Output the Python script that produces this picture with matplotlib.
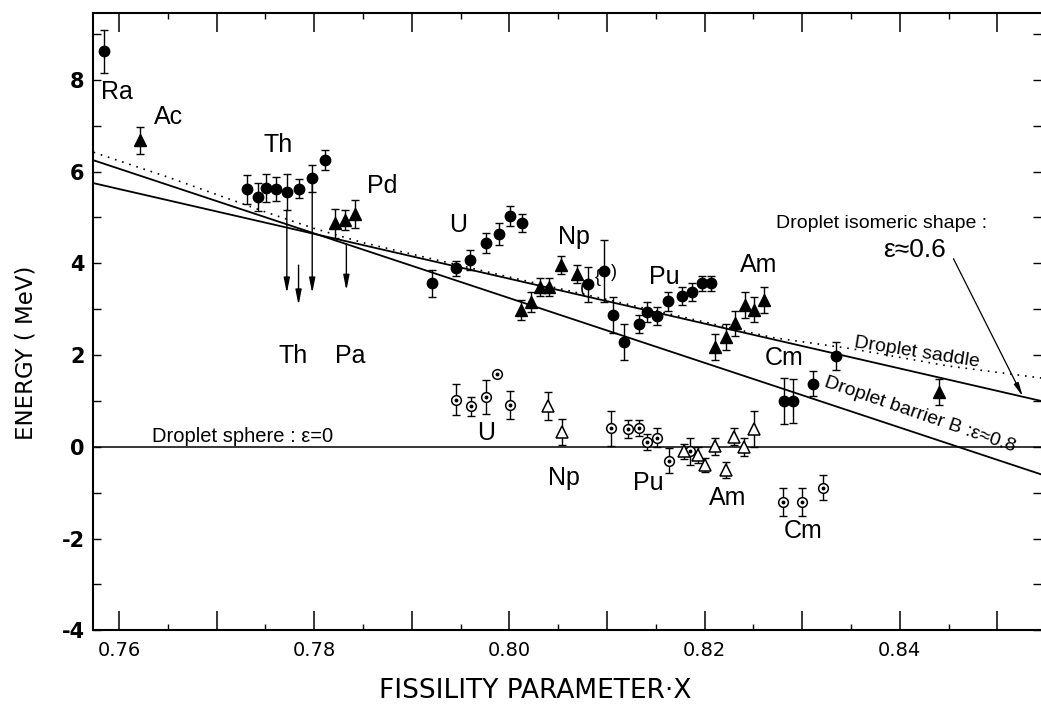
import matplotlib
matplotlib.use("Agg")
import matplotlib.pyplot as plt
from matplotlib import font_manager
from matplotlib.ticker import MultipleLocator, FuncFormatter

# ---------------- data ----------------
# filled circles (x, energy, error)
circ_x = [0.7585, 0.7731, 0.7742, 0.7751, 0.7761, 0.7772, 0.7784, 0.7798, 0.7811,
          0.7921, 0.7945, 0.7960, 0.7976, 0.7989, 0.8001, 0.8013,
          0.8081, 0.8097, 0.8106, 0.8117, 0.8133, 0.8141, 0.8151, 0.8163, 0.8177,
          0.8187, 0.8197, 0.8207, 0.8281, 0.8291, 0.8311, 0.8335]
circ_y = [8.62, 5.61, 5.45, 5.64, 5.62, 5.55, 5.63, 5.85, 6.25,
          3.56, 3.89, 4.07, 4.44, 4.63, 5.03, 4.88,
          3.54, 3.83, 2.88, 2.29, 2.67, 2.94, 2.85, 3.17, 3.29,
          3.38, 3.56, 3.56, 1.00, 1.00, 1.38, 1.98]
circ_e = [0.47, 0.31, 0.31, 0.30, 0.26, 0.39, 0.20, 0.30, 0.22,
          0.30, 0.17, 0.22, 0.22, 0.24, 0.22, 0.20,
          0.39, 0.67, 0.39, 0.39, 0.20, 0.22, 0.20, 0.20, 0.20,
          0.20, 0.17, 0.17, 0.50, 0.48, 0.28, 0.30]

# filled triangles
tri_x = [0.7622, 0.7821, 0.7832, 0.7842, 0.8012, 0.8022, 0.8031, 0.8041, 0.8053,
         0.8069, 0.8211, 0.8222, 0.8231, 0.8241, 0.8251, 0.8261, 0.8440]
tri_y = [6.68, 4.87, 4.95, 5.08, 2.98, 3.16, 3.49, 3.49, 3.96,
         3.76, 2.18, 2.40, 2.69, 3.09, 2.99, 3.20, 1.20]
tri_e = [0.30, 0.31, 0.22, 0.30, 0.22, 0.22, 0.20, 0.20, 0.20,
         0.20, 0.28, 0.28, 0.28, 0.28, 0.28, 0.28, 0.28]

# open (dotted) circles
ocirc_x = [0.7945, 0.7961, 0.7976, 0.7987, 0.8001, 0.8104, 0.8122, 0.8133, 0.8141,
           0.8151, 0.8164, 0.8185, 0.8280, 0.8300, 0.8321]
ocirc_y = [1.03, 0.88, 1.08, 1.58, 0.91, 0.40, 0.39, 0.41, 0.10,
           0.20, -0.30, -0.10, -1.20, -1.20, -0.89]
ocirc_e = [0.33, 0.21, 0.37, 0.0, 0.30, 0.39, 0.20, 0.18, 0.17,
           0.20, 0.28, 0.30, 0.30, 0.31, 0.28]

# open triangles
otri_x = [0.8040, 0.8054, 0.8179, 0.8193, 0.8200, 0.8211, 0.8222, 0.8230, 0.8240, 0.8251]
otri_y = [0.89, 0.33, -0.10, -0.18, -0.40, 0.01, -0.51, 0.22, 0.00, 0.38]
otri_e = [0.30, 0.28, 0.17, 0.17, 0.15, 0.19, 0.18, 0.19, 0.20, 0.39]

# upper-limit arrows (x, from, to)
arrow_x = [0.7772, 0.7784, 0.7798, 0.7833]
arrow_top = [5.16, 3.96, 5.85, 4.43]
arrow_bot = [3.35, 3.09, 3.35, 3.41]

# droplet-model curves
XMIN, XMAX = 0.75734, 0.85447
barrier_x = [XMIN, XMAX]
barrier_y = [6.25, -0.60]
isomer_x = [XMIN, XMAX]
isomer_y = [5.75, 1.00]
saddle_x = [0.7574, 0.765, 0.770, 0.775, 0.780, 0.785, 0.790, 0.800, 0.810,
            0.820, 0.827, 0.835, 0.845, 0.8545]
saddle_y = [6.42, 5.88, 5.50, 5.12, 4.76, 4.45, 4.20, 3.70, 3.21,
            2.72, 2.38, 2.14, 1.76, 1.50]

# element labels
upper_labels = [("Ra", 0.7598, 7.73), ("Ac", 0.7651, 7.20), ("Th", 0.7763, 6.58),
                ("Pd", 0.7870, 5.68), ("U", 0.7948, 4.83), ("Np", 0.8066, 4.57),
                ("Pu", 0.8159, 3.70), ("Am", 0.8255, 3.96), ("Cm", 0.8281, 1.93)]
lower_labels = [("Th", 0.7778, 1.98), ("Pa", 0.7837, 1.98), ("U", 0.7976, 0.30),
                ("Np", 0.8056, -0.67), ("Pu", 0.8142, -0.78), ("Am", 0.8224, -1.11),
                ("Cm", 0.8301, -1.84)]

# ---------------- fonts ----------------
installed = {f.name for f in font_manager.fontManager.ttflist}
SANS = "Liberation Sans" if "Liberation Sans" in installed else "DejaVu Sans"

# ---------------- figure ----------------
fig = plt.figure(figsize=(10.41, 7.07), dpi=100)
ax = fig.add_axes([93 / 1041, 76.7 / 707, 948 / 1041, 617 / 707])
ax.set_xlim(XMIN, XMAX)
ax.set_ylim(-4, 9.45)

# reference lines
ax.axhline(0, color="black", lw=1.1, zorder=1)
ax.plot(barrier_x, barrier_y, color="black", lw=1.3, zorder=1)
ax.plot(isomer_x, isomer_y, color="black", lw=1.3, zorder=1)
ax.plot(saddle_x, saddle_y, color="black", lw=1.2, linestyle=(0, (1, 3.5)), zorder=1)

eb = dict(fmt="none", ecolor="black", elinewidth=1.0, capsize=2.6, capthick=1.0, zorder=2)

# filled circles
ax.errorbar(circ_x, circ_y, yerr=circ_e, **eb)
ax.plot(circ_x, circ_y, "o", color="black", ms=7.5, zorder=3)

# filled triangles
ax.errorbar(tri_x, tri_y, yerr=tri_e, **eb)
ax.plot(tri_x, tri_y, "^", color="black", ms=8, zorder=3)

# open circles with central dot
ax.errorbar(ocirc_x, ocirc_y, yerr=ocirc_e, **eb)
ax.plot(ocirc_x, ocirc_y, "o", mfc="white", mec="black", mew=1.1, ms=7, zorder=3)
ax.plot(ocirc_x, ocirc_y, "o", color="black", ms=1.8, zorder=4)

# open triangles
ax.errorbar(otri_x, otri_y, yerr=otri_e, **eb)
ax.plot(otri_x, otri_y, "^", mfc="white", mec="black", mew=1.1, ms=8, zorder=3)

# upper limits
for xa, y0, y1 in zip(arrow_x, arrow_top, arrow_bot):
    ax.annotate("", xy=(xa, y1), xytext=(xa, y0),
                arrowprops=dict(arrowstyle="-|>,head_width=0.18,head_length=0.9",
                                color="black", lw=1.0, shrinkA=0, shrinkB=0), zorder=2)

# brackets around the tentative Np points
ax.text(0.8075, 3.45, "(", fontsize=13, family=SANS, ha="center", va="center")
ax.text(0.8091, 3.68, "{", fontsize=13, family=SANS, ha="center", va="center")
ax.text(0.8107, 3.80, ")", fontsize=13, family=SANS, ha="center", va="center")

# element labels
for name, lx, ly in upper_labels + lower_labels:
    ax.text(lx, ly, name, fontsize=18, family=SANS, ha="center", va="center")

# curve annotations
ax.text(0.7634, 0.22, "Droplet sphere : ε=0", fontsize=14.5, family=SANS,
        ha="left", va="center")
ax.text(0.8418, 2.06, "Droplet saddle", fontsize=14, family=SANS,
        ha="center", va="center", rotation=-9, rotation_mode="anchor")
ax.text(0.8421, 0.69, "Droplet barrier B :ε≈0.8", fontsize=14, family=SANS,
        ha="center", va="center", rotation=-19, rotation_mode="anchor")
ax.text(0.8381, 4.87, "Droplet isomeric shape :", fontsize=14, family=SANS,
        ha="center", va="center")
ax.text(0.8415, 4.29, "ε≈0.6", fontsize=19, family=SANS, ha="center", va="center")
ax.annotate("", xy=(0.8526, 1.10), xytext=(0.8455, 4.10),
            arrowprops=dict(arrowstyle="-|>,head_width=0.15,head_length=0.8",
                            color="black", lw=0.9, shrinkA=0, shrinkB=0))

# axes styling
for side in ("left", "bottom", "top"):
    ax.spines[side].set_linewidth(1.5)
ax.spines["right"].set_visible(False)

ax.xaxis.set_major_locator(MultipleLocator(0.01))
ax.xaxis.set_minor_locator(MultipleLocator(0.005))
ax.xaxis.set_major_formatter(FuncFormatter(
    lambda v, p: f"{v:.2f}" if round(v * 100) % 2 == 0 else ""))
ax.yaxis.set_major_locator(MultipleLocator(2))
ax.yaxis.set_minor_locator(MultipleLocator(1))
ax.yaxis.set_major_formatter(FuncFormatter(lambda v, p: f"{v:.0f}"))

ax.tick_params(axis="x", which="major", direction="in", length=14, width=1.1,
               top=True, bottom=True, pad=8)
ax.tick_params(axis="x", which="minor", direction="in", length=4.5, width=1.0,
               top=True, bottom=True)
ax.tick_params(axis="y", which="both", direction="in", length=6, width=1.0,
               left=True, right=True, pad=6)

for lab in ax.get_xticklabels():
    lab.set_fontfamily("DejaVu Sans")
    lab.set_fontsize(14)
for lab in ax.get_yticklabels():
    lab.set_fontfamily("DejaVu Sans")
    lab.set_fontsize(15)
    lab.set_fontweight("bold")

ax.set_ylabel("ENERGY ( MeV)", fontsize=16.5, family="DejaVu Sans")
ax.set_xlabel("FISSILITY PARAMETER·X", fontsize=19, family="DejaVu Sans")
ax.yaxis.label.set_va("center")
ax.xaxis.label.set_va("center")
ax.yaxis.set_label_coords(-(93 - 26) / 948, 0.45)
ax.xaxis.set_label_coords(0.466, -(691 - 630) / 617)

fig.savefig("out.png", dpi=100)
